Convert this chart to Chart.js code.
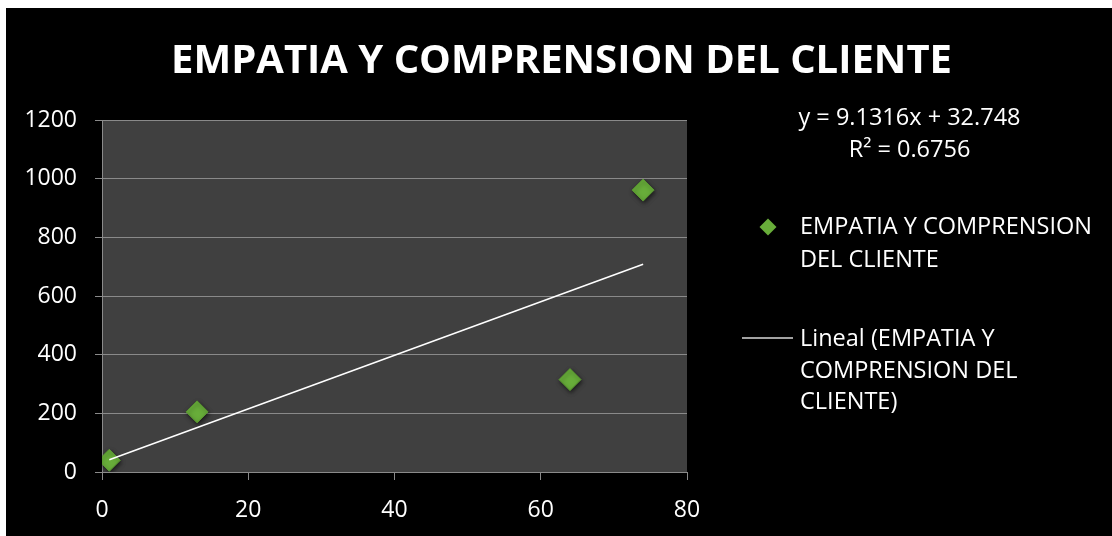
<!DOCTYPE html>
<html>
<head>
<meta charset="utf-8">
<script src="https://cdn.jsdelivr.net/npm/chart.js@4/dist/chart.umd.min.js"></script>
<style>
  html, body { margin: 0; padding: 0; background: #fff; }
  #wrap { position: absolute; left: 6px; top: 8px; width: 1106px; height: 528px; background: #000; }
</style>
</head>
<body>
<div id="wrap"><canvas id="chart" width="1106" height="528"></canvas></div>
<script>
// datos
const titleText = "EMPATIA Y COMPRENSION DEL CLIENTE";
const seriesName = ["EMPATIA Y COMPRENSION", "DEL CLIENTE"];
const trendName = ["Lineal (EMPATIA Y", "COMPRENSION DEL", "CLIENTE)"];
const xValues = [1, 13, 64, 74];
const yValues = [40, 205, 315, 961];
const xTicks = [0, 20, 40, 60, 80];
const yTicks = [0, 200, 400, 600, 800, 1000, 1200];
const trendSlope = 9.1316;
const trendIntercept = 32.748;
const trendR2 = 0.6756;

const FONT = '"Open Sans", "DejaVu Sans", sans-serif';
const GREEN = "#68ad3a";
const GRID = "#8a8a8a";

const points = xValues.map((x, i) => ({ x, y: yValues[i] }));
const xMin = Math.min(...xValues), xMax = Math.max(...xValues);
const trendPoints = [xMin, xMax].map(x => ({ x, y: trendSlope * x + trendIntercept }));

function capText(ctx, text, x, capCenter, size, weight, align) {
  ctx.font = `${weight} ${size}px ${FONT}`;
  ctx.textAlign = align;
  ctx.textBaseline = "alphabetic";
  ctx.fillText(text, x, capCenter + size * 0.357);
}

const decorations = {
  id: "decorations",
  beforeDraw(chart) {
    const { ctx, chartArea: a } = chart;
    ctx.save();
    ctx.fillStyle = "#404040";
    ctx.fillRect(a.left, a.top, a.right - a.left, a.bottom - a.top);
    ctx.restore();
  },
  beforeDatasetDraw(chart, args) {
    if (args.index === 0) {
      const ctx = chart.ctx;
      ctx.save();
      ctx.shadowColor = "rgba(0,0,0,0.6)";
      ctx.shadowBlur = 4;
      ctx.shadowOffsetX = 1;
      ctx.shadowOffsetY = 2;
    }
  },
  afterDatasetDraw(chart, args) {
    if (args.index === 0) chart.ctx.restore();
  },
  afterDraw(chart) {
    const ctx = chart.ctx;
    ctx.save();
    ctx.fillStyle = "#fff";
    // titulo
    capText(ctx, titleText, 555.5, 50.5, 40, "bold", "center");
    // ecuacion de la linea de tendencia
    capText(ctx, `y = ${trendSlope}x + ${trendIntercept}`, 903.5, 108.5, 23.5, "normal", "center");
    capText(ctx, `R² = ${trendR2}`, 903.5, 140.7, 23.5, "normal", "center");
    // leyenda: serie
    ctx.fillStyle = GREEN;
    ctx.beginPath();
    ctx.moveTo(762, 210.5); ctx.lineTo(770.5, 219); ctx.lineTo(762, 227.5); ctx.lineTo(753.5, 219);
    ctx.closePath();
    ctx.fill();
    ctx.fillStyle = "#fff";
    seriesName.forEach((t, i) => capText(ctx, t, 794, 218 + i * 32.7, 23.5, "normal", "left"));
    // leyenda: tendencia
    ctx.strokeStyle = "#d9d9d9";
    ctx.lineWidth = 1.5;
    ctx.beginPath();
    ctx.moveTo(736, 330); ctx.lineTo(787, 330);
    ctx.stroke();
    trendName.forEach((t, i) => capText(ctx, t, 794, 330 + i * 31.5, 23.5, "normal", "left"));
    ctx.restore();
  }
};

new Chart(document.getElementById("chart"), {
  type: "scatter",
  data: {
    datasets: [
      {
        label: seriesName.join(" "),
        data: points,
        order: 1,
        pointStyle: "rectRot",
        pointRadius: 11,
        pointHoverRadius: 11,
        backgroundColor: GREEN,
        borderColor: "#5a9a30",
        borderWidth: 1
      },
      {
        type: "line",
        label: trendName.join(" "),
        data: trendPoints,
        order: 0,
        borderColor: "#ffffff",
        borderWidth: 1.5,
        pointRadius: 0,
        fill: false
      }
    ]
  },
  options: {
    responsive: false,
    animation: false,
    layout: { padding: { top: 112, right: 425, bottom: 0, left: 0 } },
    plugins: {
      legend: { display: false },
      title: { display: false },
      tooltip: { enabled: false }
    },
    scales: {
      x: {
        type: "linear",
        min: xTicks[0],
        max: xTicks[xTicks.length - 1],
        afterFit: s => { s.height = 64; },
        afterBuildTicks: s => { s.ticks = xTicks.map(v => ({ value: v })); },
        ticks: { color: "#fff", font: { family: FONT, size: 23 }, padding: 17, maxRotation: 0, callback: v => String(v) },
        grid: { drawOnChartArea: false, color: GRID, tickLength: 8 },
        border: { color: GRID }
      },
      y: {
        type: "linear",
        min: yTicks[0],
        max: yTicks[yTicks.length - 1],
        afterFit: s => { s.width = 96; },
        afterBuildTicks: s => { s.ticks = yTicks.map(v => ({ value: v })); },
        ticks: { color: "#fff", font: { family: FONT, size: 23 }, padding: 18, callback: v => String(v) },
        grid: { color: GRID, tickLength: 7 },
        border: { color: GRID }
      }
    }
  },
  plugins: [decorations]
});
</script>
</body>
</html>
